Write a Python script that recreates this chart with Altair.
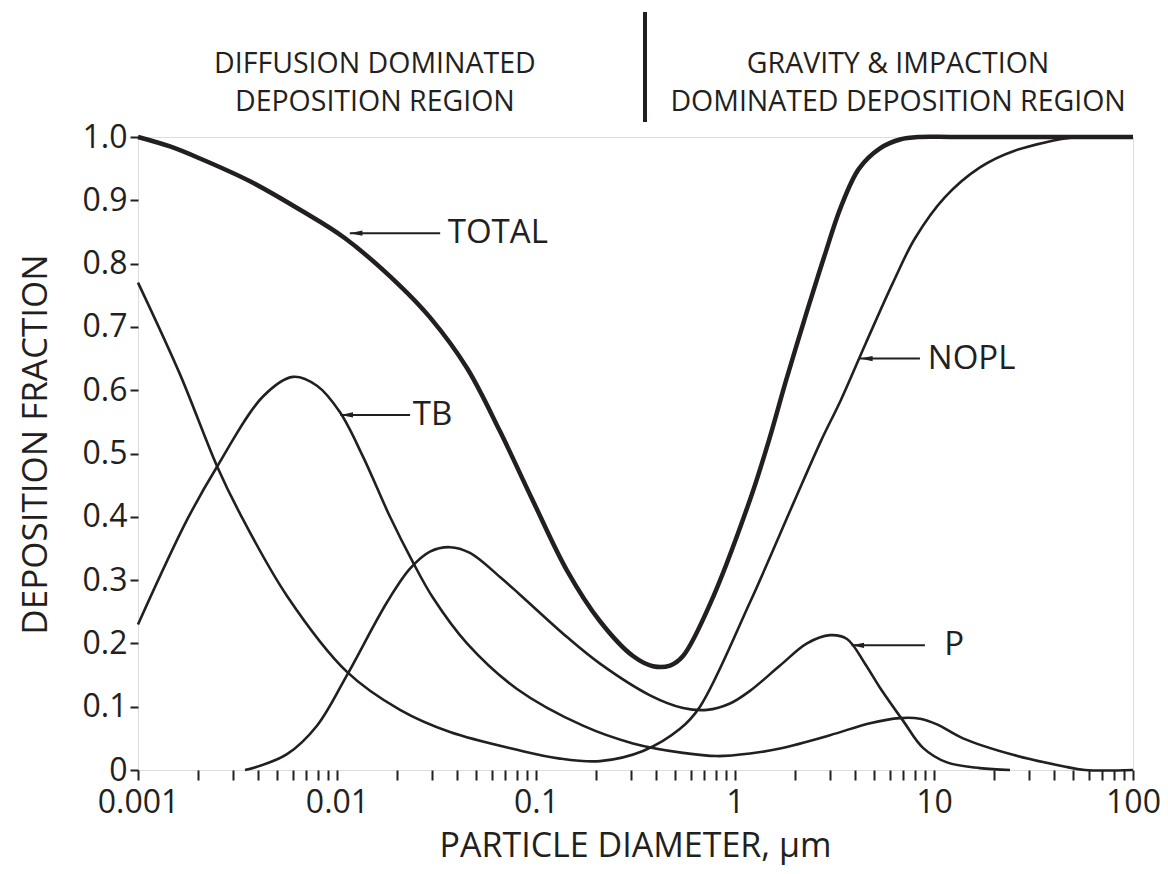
import altair as alt
import pandas as pd

INK = "#231f20"
FONT = "Open Sans"

# ---- curve data (particle diameter in µm, deposition fraction) ----
total_x = [0.001, 0.001448, 0.002049, 0.003654, 0.006518, 0.010974, 0.020732, 0.02933, 0.04499,
           0.065921, 0.09658, 0.1432, 0.2097, 0.3072, 0.3872, 0.4715, 0.5480, 0.7488, 1.1896,
           1.482, 1.804, 2.301, 2.801, 3.410, 4.200, 5.353, 6.748, 8.506, 12.0, 20.0, 50.0, 100]
total_y = [1.0, 0.985, 0.966, 0.93, 0.885, 0.84, 0.765, 0.715, 0.635,
           0.535, 0.425, 0.315, 0.235, 0.18, 0.164, 0.165, 0.18, 0.262, 0.427,
           0.521, 0.615, 0.725, 0.81, 0.89, 0.95, 0.982, 0.996, 1.0, 1.0, 1.0, 1.0, 1.0]

nopl_x = [0.001, 0.001626, 0.002495, 0.003255, 0.005607, 0.011227, 0.020732, 0.036966, 0.080264,
          0.131979, 0.209696, 0.344902, 0.529239, 0.666818, 1.1896, 1.9567, 2.7055, 3.4101,
          4.5527, 6.223, 8.0278, 11.358, 17.025, 25.235, 51.71, 75.0, 100]
nopl_y = [0.77, 0.625, 0.48, 0.405, 0.275, 0.155, 0.095, 0.06, 0.032,
          0.018, 0.014, 0.03, 0.065, 0.1, 0.265, 0.42, 0.52, 0.585,
          0.675, 0.77, 0.84, 0.905, 0.952, 0.978, 1.0, 1.0, 1.0]

tb_x = [0.001, 0.001763, 0.002495, 0.004247, 0.006009, 0.007932, 0.010354, 0.01351, 0.018466,
        0.024094, 0.030367, 0.04499, 0.080264, 0.172204, 0.307196, 0.547966, 0.811818, 1.1896,
        1.6833, 3.002, 4.7697, 6.7484, 8.5055, 10.354, 13.986, 24.946, 44.49, 57.39, 100]
tb_y = [0.23, 0.395, 0.479, 0.59, 0.621, 0.607, 0.565, 0.495, 0.40,
        0.328, 0.272, 0.2, 0.128, 0.07, 0.042, 0.027, 0.022, 0.026,
        0.034, 0.055, 0.074, 0.082, 0.081, 0.072, 0.05, 0.024, 0.006, 0.0, 0.0]

p_x = [0.003449, 0.003963, 0.005607, 0.007932, 0.011227, 0.017839, 0.023271, 0.02933, 0.036966,
       0.046572, 0.065921, 0.083104, 0.143201, 0.209696, 0.374024, 0.547966, 0.723442, 0.943871,
       1.1896, 1.6833, 2.3005, 3.002, 3.6544, 4.5006, 5.3531, 6.9866, 8.8058, 11.622, 17.025,
       24.094]
p_y = [0.0, 0.005, 0.025, 0.07, 0.15, 0.265, 0.318, 0.345, 0.352,
       0.343, 0.305, 0.277, 0.21, 0.168, 0.118, 0.098, 0.095, 0.105,
       0.125, 0.165, 0.2, 0.213, 0.207, 0.168, 0.13, 0.078, 0.035, 0.012, 0.003,
       0.0]

# ---- annotation labels with arrows ----
ann_labels = ["TOTAL", "TB", "NOPL", "P"]
ann_text_x = [0.0352, 0.0235, 9.1, 11.0]
ann_y = [0.848, 0.561, 0.65, 0.197]
ann_tip_x = [0.0116, 0.0104, 4.25, 3.85]
ann_tail_x = [0.033, 0.0233, 8.5, 9.0]

# ---- region headings above the plot ----
region_lines = ["DIFFUSION DOMINATED", "DEPOSITION REGION",
                "GRAVITY & IMPACTION", "DOMINATED DEPOSITION REGION"]
region_x = [0.0155, 0.0155, 6.6, 6.6]
region_row = [0, 1, 0, 1]
divider_x = [0.353]

# ---- axis ticks ----
decades = [0.001, 0.01, 0.1, 1, 10, 100]
minor_mult = [2, 3, 4, 5, 6, 7, 8, 9]
x_ticks = sorted(decades + [round(d * m, 6) for d in decades[:-1] for m in minor_mult])
y_ticks = [0, 0.1, 0.2, 0.3, 0.4, 0.5, 0.6, 0.7, 0.8, 0.9, 1.0]


def frame(name, xs, ys):
    return pd.DataFrame({"series": name, "x": xs, "y": ys})


thin = pd.concat([frame("NOPL", nopl_x, nopl_y), frame("TB", tb_x, tb_y), frame("P", p_x, p_y)])
thick = frame("TOTAL", total_x, total_y)
ann = pd.DataFrame({"label": ann_labels, "x": ann_text_x, "y": ann_y,
                    "tip": ann_tip_x, "tail": ann_tail_x})
regions = pd.DataFrame({"text": region_lines, "x": region_x, "row": region_row})
divider = pd.DataFrame({"x": divider_x})

x_scale = alt.Scale(type="log", domain=[0.001, 100])
y_scale = alt.Scale(domain=[0, 1])

x_axis = alt.Axis(
    values=x_ticks,
    labelExpr="indexof([0.001,0.01,0.1,1,10,100], datum.value) >= 0 ? '' + datum.value : ''",
    title="PARTICLE DIAMETER, µm",
    grid=False, domain=False, ticks=True, tickSize=10, tickWidth=2, tickColor=INK,
    labelFont=FONT, labelFontSize=32, labelColor=INK, labelPadding=7,
    labelOverlap=False, labelFlush=False,
    titleFont=FONT, titleFontSize=34, titleFontWeight="normal", titleColor=INK,
    titleX=497, titleY=86, titleBaseline="alphabetic", titleAlign="center",
)
y_axis = alt.Axis(
    values=y_ticks,
    labelExpr="datum.value == 0 ? '0' : format(datum.value, '.1f')",
    title="DEPOSITION FRACTION",
    grid=False, domain=False, ticks=True, tickSize=8, tickWidth=2, tickColor=INK,
    labelFont=FONT, labelFontSize=32, labelColor=INK, labelPadding=3,
    labelOverlap=False, labelFlush=False,
    titleFont=FONT, titleFontSize=35, titleFontWeight="normal", titleColor=INK,
    titleX=-103, titleY=307, titleAngle=-90, titleBaseline="middle", titleAlign="center",
)

CURVE = "catmull-rom"

thin_lines = alt.Chart(thin).mark_line(color=INK, strokeWidth=2.6, interpolate=CURVE).encode(
    x=alt.X("x:Q", scale=x_scale, axis=x_axis),
    y=alt.Y("y:Q", scale=y_scale, axis=y_axis),
    detail="series:N",
)
thick_line = alt.Chart(thick).mark_line(color=INK, strokeWidth=4.5, interpolate=CURVE).encode(
    x=alt.X("x:Q", scale=x_scale),
    y=alt.Y("y:Q", scale=y_scale),
)

arrow_shafts = alt.Chart(ann).mark_rule(color=INK, strokeWidth=2).encode(
    x=alt.X("tip:Q", scale=x_scale), x2="tail:Q", y=alt.Y("y:Q", scale=y_scale)
)
arrow_heads = alt.Chart(ann).mark_point(
    shape="M0,0L2.4,-0.5L2.4,0.5Z", filled=True, color=INK, opacity=1, size=110, strokeWidth=0
).encode(x=alt.X("tip:Q", scale=x_scale), y=alt.Y("y:Q", scale=y_scale))
ann_text = alt.Chart(ann).mark_text(
    font=FONT, fontSize=33, color=INK, align="left", baseline="middle", dx=2
).encode(x=alt.X("x:Q", scale=x_scale), y=alt.Y("y:Q", scale=y_scale), text="label:N")

region_top = alt.Chart(regions).transform_filter("datum.row == 0").mark_text(
    font=FONT, fontSize=28.5, color=INK, align="center", baseline="middle"
).encode(x=alt.X("x:Q", scale=x_scale), y=alt.value(-73), text="text:N")
region_bot = alt.Chart(regions).transform_filter("datum.row == 1").mark_text(
    font=FONT, fontSize=28.5, color=INK, align="center", baseline="middle"
).encode(x=alt.X("x:Q", scale=x_scale), y=alt.value(-35), text="text:N")
divider_rule = alt.Chart(divider).mark_rule(color=INK, strokeWidth=4).encode(
    x=alt.X("x:Q", scale=x_scale), y=alt.value(-125), y2=alt.value(-15)
)

chart = alt.layer(
    thin_lines, thick_line, arrow_shafts, arrow_heads, ann_text,
    region_top, region_bot, divider_rule,
).properties(
    width=995, height=633,
    autosize=alt.AutoSizeParams(type="none"),
    padding={"left": 130, "top": 129, "right": 27, "bottom": 96},
).configure_view(
    stroke=INK, strokeWidth=3.5
).configure(background="white")

chart.save("out.html", embed_options={"renderer": "svg", "actions": False})
